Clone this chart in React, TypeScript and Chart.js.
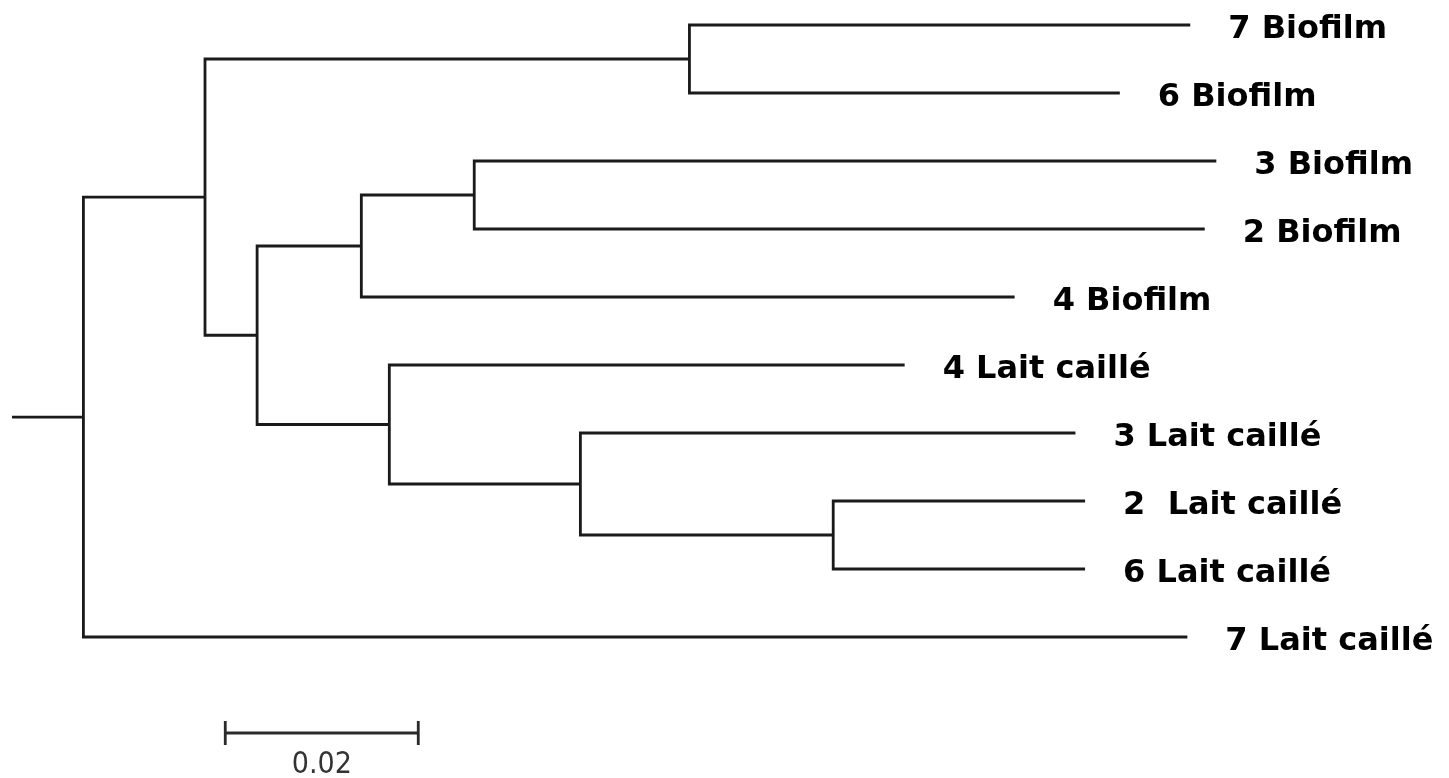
import React, { useEffect, useRef } from "react";
import { Chart, registerables } from "chart.js";

Chart.register(...registerables);

// ---- Data ----
// Leaves, top to bottom (y = leaf order index), depth = cumulative distance from root stem
const leafNames = [
  "7 Biofilm",
  "6 Biofilm",
  "3 Biofilm",
  "2 Biofilm",
  "4 Biofilm",
  "4 Lait caillé",
  "3 Lait caillé",
  "2  Lait caillé",
  "6 Lait caillé",
  "7 Lait caillé",
];
const leafDepths = [0.1221, 0.1148, 0.1248, 0.1236, 0.1039, 0.0925, 0.1102, 0.1112, 0.1112, 0.1218];

// Internal nodes: depth and children ("L<i>" = leaf i, otherwise node name)
const nodeNames = ["R", "A", "B", "C", "D", "E", "F", "G", "H"];
const nodeDepths = [0.0074, 0.02, 0.0702, 0.0254, 0.0362, 0.0479, 0.0391, 0.0589, 0.0851];
const nodeChildren = [
  ["A", "L9"],
  ["B", "C"],
  ["L0", "L1"],
  ["D", "F"],
  ["E", "L4"],
  ["L2", "L3"],
  ["L5", "G"],
  ["L6", "H"],
  ["L7", "L8"],
];
const rootStemStart = 0;

// Scale bar
const scaleBarLength = 0.02;
const scaleBarLabel = "0.02";

// ---- Layout constants ----
const W = 1449;
const H = 778;
const PX_PER_UNIT = 9650;
const X_LEFT_PX = 12;
const LEAF_TOP_PX = 25;
const LEAF_STEP_PX = 68;
const SCALE_BAR_START = 0.0221;
const SCALE_BAR_Y = (733 - LEAF_TOP_PX) / LEAF_STEP_PX;
const LABEL_GAP = 38;
const LINE_COLOR = "#1a1a1a";

function buildTree() {
  const depth: Record<string, number> = {};
  const yPos: Record<string, number> = {};
  leafNames.forEach((_, i) => {
    depth["L" + i] = leafDepths[i];
    yPos["L" + i] = i;
  });
  nodeNames.forEach((n, i) => (depth[n] = nodeDepths[i]));
  const getY = (id: string): number => {
    if (yPos[id] !== undefined) return yPos[id];
    const idx = nodeNames.indexOf(id);
    const [a, b] = nodeChildren[idx];
    const v = (getY(a) + getY(b)) / 2;
    yPos[id] = v;
    return v;
  };
  nodeNames.forEach((n) => getY(n));
  return { depth, yPos };
}

export default function App() {
  const ref = useRef<HTMLCanvasElement | null>(null);

  useEffect(() => {
    document.body.style.margin = "0";
    document.body.style.background = "#ffffff";
    const canvas = ref.current;
    if (!canvas) return;
    const { depth, yPos } = buildTree();

    const datasets: any[] = [];
    const lineStyle = {
      showLine: true,
      pointRadius: 0,
      pointHoverRadius: 0,
      borderColor: LINE_COLOR,
      borderWidth: 2.8,
      borderJoinStyle: "miter",
      borderCapStyle: "butt",
      fill: false,
      tension: 0,
    };
    // root stem
    datasets.push({
      ...lineStyle,
      data: [
        { x: rootStemStart, y: yPos["R"] },
        { x: depth["R"], y: yPos["R"] },
      ],
    });
    nodeNames.forEach((n, i) => {
      const [a, b] = nodeChildren[i];
      datasets.push({
        ...lineStyle,
        data: [
          { x: depth[a], y: yPos[a] },
          { x: depth[n], y: yPos[a] },
          { x: depth[n], y: yPos[b] },
          { x: depth[b], y: yPos[b] },
        ],
      });
    });
    // scale bar
    const tick = 12 / LEAF_STEP_PX;
    datasets.push({
      ...lineStyle,
      borderColor: "#2a2a2a",
      data: [
        { x: SCALE_BAR_START, y: SCALE_BAR_Y },
        { x: SCALE_BAR_START + scaleBarLength, y: SCALE_BAR_Y },
      ],
    });
    [SCALE_BAR_START, SCALE_BAR_START + scaleBarLength].forEach((x) =>
      datasets.push({
        ...lineStyle,
        borderColor: "#2a2a2a",
        data: [
          { x, y: SCALE_BAR_Y - tick },
          { x, y: SCALE_BAR_Y + tick },
        ],
      })
    );

    const labelPlugin = {
      id: "leafLabels",
      afterDatasetsDraw(chart: any) {
        const ctx = chart.ctx;
        const xs = chart.scales.x;
        const ys = chart.scales.y;
        ctx.save();
        ctx.fillStyle = "#000";
        ctx.font = 'bold 32px "DejaVu Sans", Verdana, sans-serif';
        ctx.textAlign = "left";
        ctx.textBaseline = "alphabetic";
        leafNames.forEach((name, i) => {
          const px = xs.getPixelForValue(leafDepths[i]) + LABEL_GAP;
          const py = ys.getPixelForValue(i) + 13;
          ctx.fillText(name, px, py);
        });
        // scale bar label
        ctx.fillStyle = "#333";
        ctx.font = '30px "DejaVu Sans Condensed", "DejaVu Sans", sans-serif';
        ctx.textAlign = "center";
        ctx.textBaseline = "alphabetic";
        const cx = xs.getPixelForValue(SCALE_BAR_START + scaleBarLength / 2);
        const cy = ys.getPixelForValue(SCALE_BAR_Y) + 40;
        ctx.fillText(scaleBarLabel, cx, cy);
        ctx.restore();
      },
    };

    const xMin = -X_LEFT_PX / PX_PER_UNIT;
    const xMax = xMin + W / PX_PER_UNIT;
    const yMin = -LEAF_TOP_PX / LEAF_STEP_PX;
    const yMax = (H - LEAF_TOP_PX) / LEAF_STEP_PX;

    const chart = new Chart(canvas, {
      type: "scatter",
      data: { datasets },
      options: {
        animation: false,
        responsive: false,
        devicePixelRatio: 1,
        events: [],
        layout: { padding: 0 },
        plugins: {
          legend: { display: false },
          tooltip: { enabled: false },
          title: { display: false },
        },
        scales: {
          x: { type: "linear", min: xMin, max: xMax, display: false },
          y: { type: "linear", min: yMin, max: yMax, reverse: true, display: false },
        },
      },
      plugins: [labelPlugin],
    } as any);

    return () => chart.destroy();
  }, []);

  return (
    <div style={{ width: W, height: H, background: "#fff" }}>
      <canvas ref={ref} width={W} height={H} style={{ display: "block" }} />
    </div>
  );
}
